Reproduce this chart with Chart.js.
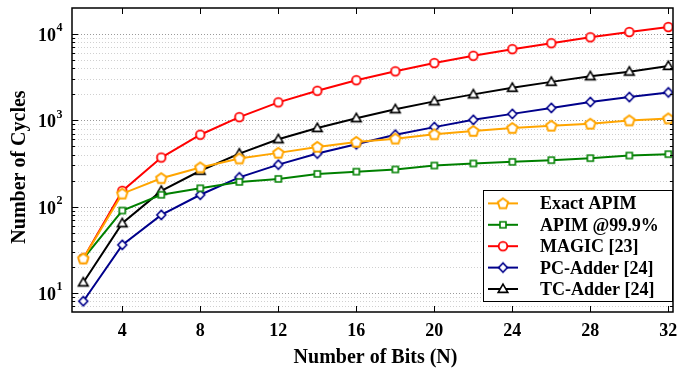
<!DOCTYPE html>
<html>
<head>
<meta charset="utf-8">
<script src="https://cdn.jsdelivr.net/npm/chart.js@4.4.1/dist/chart.umd.min.js"></script>
<style>
  html, body { margin: 0; padding: 0; background: #fff; }
</style>
</head>
<body>
<canvas id="grafico" width="681" height="375"></canvas>
<script>
// === DATA ===
const bits = [2, 4, 6, 8, 10, 12, 14, 16, 18, 20, 22, 24, 26, 28, 30, 32];
const exactApim = [25, 141, 213, 284, 360, 419, 491, 561, 612, 687, 750, 812, 863, 910, 995, 1049];
const apim999 = [25, 90, 137, 163, 193, 209, 239, 254, 269, 299, 316, 330, 345, 364, 390, 405];
const magic = [25, 152, 370, 680, 1086, 1614, 2198, 2911, 3690, 4600, 5590, 6670, 7820, 9160, 10540, 12030];
const pcAdder = [8, 36, 80, 137, 218, 306, 411, 527, 680, 833, 1011, 1186, 1390, 1627, 1857, 2102];
const tcAdder = [13.2, 64, 152, 260, 411, 602, 812, 1057, 1341, 1656, 1995, 2377, 2786, 3235, 3660, 4256];

const seriesNames = ['Exact APIM', 'APIM @99.9%', 'MAGIC [23]', 'PC-Adder [24]', 'TC-Adder [24]'];
const seriesColors = ['#FFA500', '#008000', '#FF0000', '#00008B', '#000000'];
const xTicks = [4, 8, 12, 16, 20, 24, 28, 32];
const yDecades = [10, 100, 1000, 10000];
const yExponents = ['1', '2', '3', '4'];

const FONT = '"Liberation Serif", "Times New Roman", serif';

// minor log ticks (2..9 of each decade) inside the visible range
const yMinMax = [6, 20000];
const yMinor = [];
[1, 10, 100, 1000, 10000].forEach(d => {
  for (let m = 2; m <= 9; m++) {
    const v = d * m;
    if (v > yMinMax[0] && v < yMinMax[1] && !yDecades.includes(v)) yMinor.push(v);
  }
});

// === MARKERS (small canvases used as point styles) ===
function marker(shape, color) {
  const c = document.createElement('canvas');
  c.width = 16; c.height = 16;
  const g = c.getContext('2d');
  g.translate(8, 8);
  g.strokeStyle = color;
  g.fillStyle = '#fff';
  g.lineJoin = 'miter';
  g.beginPath();
  if (shape === 'pentagon') {
    g.lineWidth = 2;
    for (let i = 0; i < 5; i++) {
      const a = -Math.PI / 2 + i * 2 * Math.PI / 5;
      const px = 5.4 * Math.cos(a), py = 5.4 * Math.sin(a) + 0.4;
      i ? g.lineTo(px, py) : g.moveTo(px, py);
    }
    g.closePath();
  } else if (shape === 'square') {
    g.lineWidth = 1.6;
    g.rect(-3, -3, 6, 6);
  } else if (shape === 'circle') {
    g.lineWidth = 1.8;
    g.arc(0, 0, 4.3, 0, Math.PI * 2);
  } else if (shape === 'diamond') {
    g.lineWidth = 1.6;
    g.moveTo(0, -4.6); g.lineTo(4.4, 0); g.lineTo(0, 4.6); g.lineTo(-4.4, 0);
    g.closePath();
  } else if (shape === 'triangle') {
    g.lineWidth = 1.6;
    g.moveTo(0, -4.8); g.lineTo(4.8, 3.4); g.lineTo(-4.8, 3.4);
    g.closePath();
  }
  g.fill();
  g.stroke();
  return c;
}
const shapes = ['pentagon', 'square', 'circle', 'diamond', 'triangle'];
const markers = shapes.map((s, i) => marker(s, seriesColors[i]));
const allSeries = [exactApim, apim999, magic, pcAdder, tcAdder];

// === DECORATION PLUGIN ===
const decor = {
  id: 'decor',
  beforeDatasetsDraw(chart) {
    const { ctx, chartArea: a, scales: { y } } = chart;
    ctx.save();
    ctx.lineWidth = 1;
    ctx.setLineDash([1, 2]);
    yMinor.concat(yDecades).forEach(v => {
      const py = Math.round(y.getPixelForValue(v)) + 0.5;
      ctx.strokeStyle = yDecades.includes(v) ? '#999999' : '#d0d0d0';
      ctx.beginPath();
      ctx.moveTo(a.left, py);
      ctx.lineTo(a.right, py);
      ctx.stroke();
    });
    ctx.restore();
  },
  afterDatasetsDraw(chart) {
    const { ctx, chartArea: a, scales: { x, y } } = chart;
    ctx.save();
    ctx.setLineDash([]);
    ctx.strokeStyle = '#000';
    ctx.lineWidth = 1;
    // ticks (inside, on all sides)
    ctx.beginPath();
    yDecades.concat(yMinor).forEach(v => {
      const py = Math.round(y.getPixelForValue(v)) + 0.5;
      const len = yDecades.includes(v) ? 6 : 3;
      ctx.moveTo(a.left, py); ctx.lineTo(a.left + len, py);
      ctx.moveTo(a.right, py); ctx.lineTo(a.right - len, py);
    });
    xTicks.forEach(v => {
      const px = Math.round(x.getPixelForValue(v)) + 0.5;
      ctx.moveTo(px, a.bottom); ctx.lineTo(px, a.bottom - 6);
      ctx.moveTo(px, a.top); ctx.lineTo(px, a.top + 6);
    });
    ctx.stroke();
    // frame
    ctx.lineWidth = 1.5;
    ctx.strokeRect(a.left, a.top, a.right - a.left, a.bottom - a.top);

    // tick labels
    ctx.fillStyle = '#000';
    ctx.font = 'bold 18px ' + FONT;
    ctx.textAlign = 'center';
    ctx.textBaseline = 'alphabetic';
    xTicks.forEach(v => ctx.fillText(String(v), x.getPixelForValue(v), 335.5));
    yDecades.forEach((v, i) => {
      const py = y.getPixelForValue(v);
      ctx.font = 'bold 18px ' + FONT;
      ctx.textAlign = 'right';
      ctx.fillText('10', 56, py + 7);
      ctx.font = 'bold 12px ' + FONT;
      ctx.textAlign = 'left';
      ctx.fillText(yExponents[i], 56.5, py - 2.5);
    });

    // axis titles
    ctx.font = 'bold 20px ' + FONT;
    ctx.textAlign = 'center';
    ctx.fillText('Number of Bits (N)', (a.left + a.right) / 2 + 3, 362.5);
    ctx.save();
    ctx.translate(24.5, 167);
    ctx.rotate(-Math.PI / 2);
    ctx.fillText('Number of Cycles', 0, 0);
    ctx.restore();

    // legend
    const lx = 483.5, ly = 190.5, lw = 189, lh = 111;
    ctx.fillStyle = '#fff';
    ctx.fillRect(lx, ly, lw, lh);
    ctx.lineWidth = 1;
    ctx.strokeStyle = '#000';
    ctx.strokeRect(lx, ly, lw, lh);
    ctx.font = 'bold 18px ' + FONT;
    ctx.textAlign = 'left';
    seriesNames.forEach((name, i) => {
      const ry = 203.4 + i * 21.4;
      ctx.strokeStyle = seriesColors[i];
      ctx.lineWidth = 2;
      ctx.beginPath();
      ctx.moveTo(488, ry); ctx.lineTo(518, ry);
      ctx.stroke();
      ctx.drawImage(markers[i], 503 - 8, ry - 8);
      ctx.fillStyle = '#000';
      ctx.fillText(name, 540, ry + 6);
    });
    ctx.restore();
  }
};

// === CHART ===
const ctx = document.getElementById('grafico').getContext('2d');
const chart = new Chart(ctx, {
  type: 'line',
  data: {
    datasets: allSeries.map((vals, i) => ({
      label: seriesNames[i],
      data: bits.map((b, k) => ({ x: b, y: vals[k] })),
      borderColor: seriesColors[i],
      backgroundColor: '#fff',
      borderWidth: 2,
      pointStyle: markers[i],
      pointRadius: 6,
      tension: 0
    }))
  },
  options: {
    responsive: false,
    animation: false,
    layout: { padding: { left: 72, right: 7, top: 5, bottom: 63 } },
    plugins: {
      legend: { display: false },
      tooltip: { enabled: false }
    },
    scales: {
      x: { type: 'linear', min: 1.42, max: 32.24, display: false },
      y: { type: 'logarithmic', min: yMinMax[0], max: yMinMax[1], display: false }
    }
  },
  plugins: [decor]
});
</script>
</body>
</html>
